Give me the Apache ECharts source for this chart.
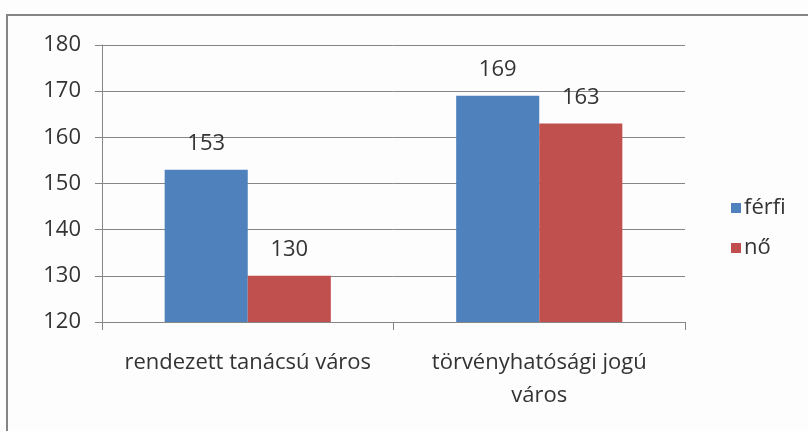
<!DOCTYPE html>
<html>
<head>
<meta charset="utf-8">
<script src="https://cdn.jsdelivr.net/npm/echarts@6/dist/echarts.min.js"></script>
<style>
  html, body { margin: 0; padding: 0; background: #fdfdfd; }
  #chart { width: 808px; height: 431px; }
</style>
</head>
<body>
<div id="chart"></div>
<script>
  // kategóriák és adatok
  var categories = ['rendezett tanácsú város', 'törvényhatósági jogú\nváros'];
  var seriesNames = ['férfi', 'nő'];
  var ferfiValues = [153, 169];
  var noValues = [130, 163];
  var yTicks = [120, 130, 140, 150, 160, 170, 180];

  var fontFam = '"Open Sans", Lato, sans-serif';
  var chart = echarts.init(document.getElementById('chart'));
  chart.setOption({
    backgroundColor: '#fdfdfd',
    animation: false,
    graphic: [{
      type: 'rect',
      shape: { x: 7, y: 15, width: 900, height: 600 },
      style: { fill: 'none', stroke: '#858585', lineWidth: 2 }
    }],
    legend: {
      orient: 'vertical',
      left: 726,
      top: 192,
      itemWidth: 10,
      itemHeight: 10,
      itemGap: 18,
      icon: 'rect',
      textStyle: { fontFamily: fontFam, fontSize: 22, color: '#333', padding: [0, 0, 0, -2] },
      data: seriesNames
    },
    grid: {
      left: 102,
      right: 123,
      top: 45,
      bottom: 109
    },
    xAxis: {
      type: 'category',
      data: categories,
      axisLine: { show: true, lineStyle: { color: '#868686', width: 1 } },
      axisTick: { show: true, length: 8, lineStyle: { color: '#868686' } },
      axisLabel: {
        interval: 0,
        hideOverlap: false,
        fontFamily: fontFam,
        fontSize: 22,
        color: '#333',
        margin: 24,
        lineHeight: 33
      }
    },
    yAxis: {
      type: 'value',
      min: yTicks[0],
      max: yTicks[yTicks.length - 1],
      interval: 10,
      axisLine: { show: true, lineStyle: { color: '#868686', width: 1 } },
      axisTick: { show: true, length: 7, lineStyle: { color: '#868686' } },
      axisLabel: { fontFamily: fontFam, fontSize: 22, color: '#333', margin: 21 },
      splitLine: { show: true, lineStyle: { color: '#868686', width: 1 } }
    },
    series: [
      {
        name: seriesNames[0],
        type: 'bar',
        data: ferfiValues,
        barGap: '0%',
        barCategoryGap: '43%',
        itemStyle: { color: '#4f81bd' },
        label: {
          show: true, position: 'top', distance: 15,
          fontFamily: fontFam, fontSize: 22, color: '#333'
        }
      },
      {
        name: seriesNames[1],
        type: 'bar',
        data: noValues,
        barGap: '0%',
        barCategoryGap: '43%',
        itemStyle: { color: '#c0504d' },
        label: {
          show: true, position: 'top', distance: 15,
          fontFamily: fontFam, fontSize: 22, color: '#333'
        }
      }
    ]
  });
</script>
</body>
</html>
